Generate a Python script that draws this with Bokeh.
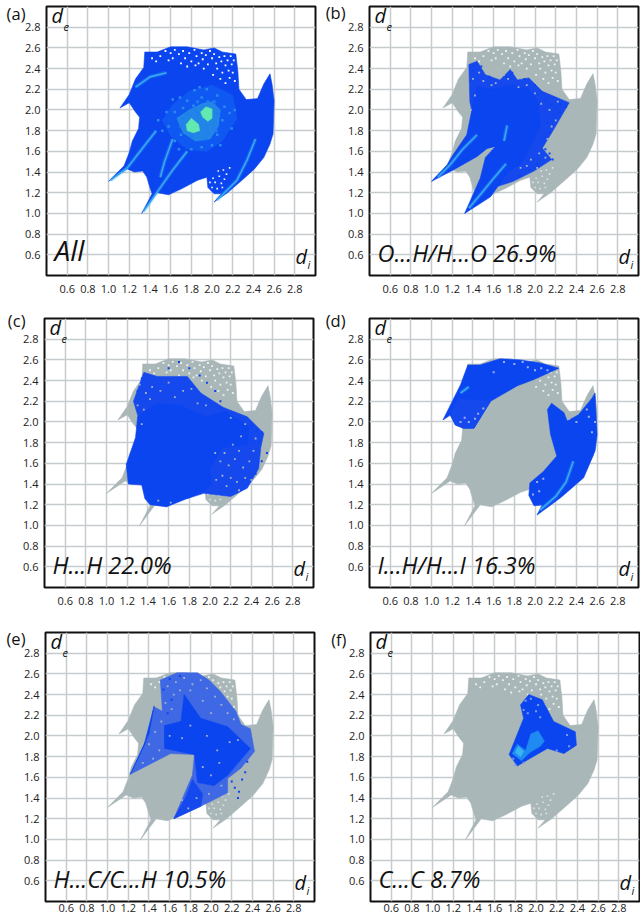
from bokeh.plotting import figure
from bokeh.layouts import column, row
from bokeh.models import Range1d, FixedTicker, NumeralTickFormatter, Label, LinearAxis
from bokeh.embed import file_html
from bokeh.resources import INLINE

TICKS = [0.6, 0.8, 1.0, 1.2, 1.4, 1.6, 1.8, 2.0, 2.2, 2.4, 2.6, 2.8]

ENVELOPE = [(1.32,1.0),(1.42,1.19),(1.39,1.28),(1.37,1.35),(1.33,1.41),(1.25,1.40),(1.18,1.43),(1.0,1.31),
 (1.15,1.46),(1.20,1.59),(1.23,1.70),(1.29,1.82),(1.30,1.93),(1.26,1.98),(1.20,2.07),(1.11,2.02),(1.20,2.15),
 (1.26,2.30),(1.34,2.41),(1.35,2.56),(1.47,2.56),(1.60,2.61),(1.76,2.61),(1.92,2.58),(2.02,2.60),(2.10,2.56),
 (2.23,2.54),(2.25,2.37),(2.26,2.20),(2.33,2.10),(2.44,2.11),(2.50,2.25),(2.56,2.35),(2.58,2.25),(2.60,2.09),
 (2.59,1.77),(2.56,1.67),(2.50,1.54),(2.41,1.43),(2.30,1.33),(2.15,1.20),(2.02,1.11),(2.09,1.19),(2.02,1.19),
 (1.96,1.25),(1.95,1.35),(1.86,1.32),(1.71,1.24),(1.58,1.18),(1.47,1.20)]

TOP_SPECKS = [(1.42,2.50),(1.50,2.52),(1.55,2.57),(1.60,2.55),(1.64,2.58),(1.68,2.54),(1.72,2.57),(1.74,2.50),(1.78,2.55),
 (1.80,2.47),(1.83,2.58),(1.85,2.52),(1.87,2.45),(1.90,2.55),(1.91,2.49),(1.94,2.53),(1.96,2.44),(1.98,2.57),
 (2.00,2.50),(2.02,2.54),(2.04,2.45),(2.05,2.40),(2.07,2.51),(2.09,2.47),(2.10,2.36),(2.12,2.52),(2.13,2.43),
 (2.15,2.48),(2.16,2.38),(2.17,2.31),(2.18,2.52),(2.19,2.44),(2.20,2.36),(2.21,2.48),(2.22,2.28),(1.62,2.50),
 (1.70,2.45),(1.76,2.42),(1.92,2.40),(2.01,2.34),(2.08,2.30),(2.13,2.26),(1.58,2.48),(1.46,2.47),(1.84,2.43)]
LOBE_SPECKS = [(2.00,1.25),(2.03,1.30),(2.05,1.24),(2.07,1.36),(2.09,1.29),(2.11,1.42),(2.12,1.33),(2.01,1.34),(1.98,1.30),
 (2.14,1.38),(2.17,1.44),(2.06,1.41),(2.10,1.25)]

LABEL_A_HAZE = [(1.52,1.90),(1.62,2.05),(1.78,2.18),(2.00,2.24),(2.20,2.14),(2.24,1.92),(2.10,1.70),(1.95,1.60),(1.76,1.62),(1.60,1.75)]
A_CORE = [(1.66,1.92),(1.72,1.78),(1.84,1.70),(1.98,1.72),(2.06,1.84),(2.08,2.00),(2.00,2.08),(1.90,2.06),(1.78,2.00)]
A_GREEN_1 = [(1.75,1.86),(1.80,1.92),(1.87,1.86),(1.88,1.80),(1.82,1.78),(1.76,1.80)]
A_GREEN_2 = [(1.89,1.98),(1.94,2.03),(2.00,2.01),(2.00,1.92),(1.96,1.89),(1.91,1.93)]
A_STREAKS = [[(1.02,1.32),(1.18,1.44),(1.32,1.62),(1.46,1.80)],[(1.34,1.02),(1.48,1.22),(1.62,1.42),(1.76,1.60)],
 [(2.05,1.13),(2.24,1.32),(2.34,1.52),(2.42,1.72)],[(1.26,2.22),(1.40,2.32),(1.56,2.36)],[(1.50,1.35),(1.54,1.50),(1.62,1.72)]]
A_SPECKS = [(1.58,1.84),(1.64,1.98),(1.69,2.12),(1.76,2.09),(1.83,2.19),(1.90,2.12),(1.95,2.20),(2.05,2.14),(2.12,2.03),(2.17,1.97),
 (2.10,1.90),(2.19,1.82),(2.05,1.76),(2.00,1.66),(1.90,1.64),(1.80,1.62),(1.70,1.76),(1.64,1.70),(1.72,2.02),(1.82,2.04),
 (1.56,1.98),(1.62,2.10),(1.88,2.22),(2.22,2.00),(1.68,1.62),(2.08,1.66),(1.52,1.80),(1.48,1.90)]
A_HOLES = [(1.76,1.96),(1.84,2.00),(1.70,1.84),(1.96,1.78),(2.04,1.80),(1.86,1.96),(2.06,1.96),(1.92,1.72),(1.72,1.92),(1.80,1.74),(2.02,2.08),(1.96,2.08),(1.86,2.08)]

B_SPARSE = [(1.36,2.44),(1.44,2.47),(1.52,2.34),(1.66,2.29),(1.76,2.39),(1.83,2.29),(1.94,2.31),(2.07,2.18),(2.33,2.07),
 (2.18,1.81),(2.07,1.63),(2.16,1.52),(1.99,1.41),(1.79,1.31),(1.57,1.24),(1.62,1.65),(1.54,1.63),(1.44,1.76),(1.37,2.08)]
B_DENSE = [(1.0,1.31),(1.15,1.47),(1.21,1.57),(1.34,1.76),(1.40,2.05),(1.44,2.22),(1.60,2.20),(1.78,2.24),(1.94,2.20),(2.03,2.08),
 (2.05,1.85),(1.96,1.66),(1.88,1.50),(1.74,1.40),(1.57,1.16),(1.32,1.0),(1.47,1.34),(1.52,1.54),(1.62,1.65),
 (1.54,1.63),(1.44,1.55),(1.21,1.42)]
B_STREAKS = [[(1.06,1.35),(1.18,1.47),(1.30,1.62),(1.44,1.76)],[(1.36,1.05),(1.47,1.18),(1.60,1.34),(1.72,1.48)],[(1.70,1.70),(1.73,1.85)]]
B_DOTS = [(2.10,2.10),(2.15,2.05),(2.20,2.02),(2.25,2.06),(2.30,2.03),(2.18,1.95),(2.24,1.98),(2.12,1.88),(2.14,1.78),(2.08,1.72),
 (2.10,1.62),(2.14,1.58),(2.17,1.52),(2.02,1.48),(1.95,1.42),(1.85,1.36),(1.48,2.42),(1.56,2.32),(1.72,2.32),(1.78,2.36),(1.90,2.30),
 (2.00,2.24),(2.06,2.17),(1.40,2.38),(1.38,2.28)]
B_HOLES = [(1.40,2.30),(1.46,2.36),(1.42,2.14),(1.38,2.00),(1.50,2.28),(1.58,2.24),(1.62,2.26),(1.74,2.30),(1.84,2.22),(1.92,2.24),(2.00,2.16),(2.06,2.06),
 (2.14,2.00),(2.20,1.90),(2.12,1.72),(2.04,1.58),(2.02,1.44),(2.10,1.54),(1.92,1.46),(1.96,1.52),(1.86,1.44),(2.16,1.84),(2.22,2.08),(1.70,2.34)]

C_SPARSE = [(1.36,2.48),(1.49,2.44),(1.78,2.44),(1.91,2.28),(2.13,2.14),(2.36,2.05),(2.52,1.89),(2.49,1.75),(2.47,1.55),(2.36,1.36),
 (2.20,1.28),(1.94,1.31),(1.78,1.26),(1.90,1.80),(1.35,1.90),(1.26,2.2)]
C_DENSE = [(1.21,1.40),(1.19,1.59),(1.28,1.85),(1.30,2.05),(1.48,2.18),(1.72,2.16),(1.95,2.05),(2.15,2.10),(2.38,1.95),(2.36,1.78),
 (2.12,1.75),(2.00,1.55),(2.02,1.40),(1.94,1.33),(1.78,1.26),(1.58,1.18),(1.42,1.20),(1.37,1.26),(1.34,1.39)]
C_DOTS = [(2.40,1.96),(2.45,1.92),(2.50,1.90),(2.43,1.82),(2.48,1.80),(2.55,1.70),(2.50,1.62),(2.44,1.50),(1.60,2.52),(1.70,2.58),(1.80,2.52),(1.90,2.45),(1.97,2.38),
 (2.05,2.30),(2.10,2.20),(1.30,2.30),(1.34,2.42)]
C_HOLES = [(1.32,2.36),(1.38,2.28),(1.44,2.34),(1.52,2.30),(1.60,2.38),(1.66,2.24),(1.74,2.30),(1.82,2.32),(1.88,2.18),(1.36,2.12),(1.42,2.22),(1.30,2.16),(1.34,1.98),
 (2.05,1.70),(2.10,1.62),(2.14,1.70),(2.18,1.58),(2.24,1.64),(2.28,1.72),(2.32,1.56),(2.38,1.62),(2.42,1.72),(2.20,1.46),(2.26,1.42),(2.34,1.46),(2.12,1.48),(2.06,1.44),
 (2.16,1.38),(2.28,1.34),(2.40,1.44),(2.44,1.84),(2.34,1.98),(2.20,2.04),(2.30,1.86),(2.22,1.78),(1.96,2.16),(1.62,1.22),(1.50,1.24)]

D_TOP_SPARSE = [(1.41,1.94),(1.31,1.94),(1.23,1.97),(1.18,2.07),(1.26,2.22),(1.57,2.20)]
D_TOP = [(1.11,2.02),(1.28,2.36),(1.35,2.55),(1.47,2.55),(1.66,2.61),(1.86,2.6),(2.05,2.57),(2.23,2.52),(1.99,2.41),(1.83,2.35),(1.57,2.20),
 (1.41,1.94),(1.31,1.94),(1.23,1.97),(1.18,2.07)]
D_RIGHT = [(2.12,2.12),(2.16,2.18),(2.28,2.09),(2.31,2.01),(2.42,2.07),(2.55,2.23),(2.58,2.28),(2.6,1.88),(2.58,1.72),(2.47,1.46),(2.25,1.27),
 (2.02,1.10),(2.07,1.2),(1.99,1.19),(1.94,1.29),(1.95,1.41),(2.08,1.52),(2.21,1.67),(2.15,1.88)]
D_STREAKS = [[(2.05,1.15),(2.20,1.28),(2.30,1.42),(2.37,1.62)],[(1.28,2.28),(1.36,2.34)]]
D_WHITE = [(1.70,2.58),(1.80,2.56),(1.88,2.58),(1.93,2.53),(2.00,2.50),(2.06,2.52),(2.12,2.50),(1.32,2.04),(1.28,2.00),(1.36,2.00),(1.42,2.03),(1.50,2.13),(1.45,2.08),
 (2.02,1.42),(1.98,1.30),(2.04,1.33),(2.08,1.45),(2.52,2.05),(2.55,1.90),(2.58,2.00),(2.50,2.12),(2.33,2.03),(2.40,2.00),(1.60,2.48)]

E_SPARSE = [(1.51,2.54),(1.67,2.61),(1.87,2.61),(1.98,2.54),(2.09,2.43),(2.24,2.24),(2.29,2.11),(2.38,2.07),(2.42,1.85),(2.29,1.69),(2.16,1.59),
 (2.16,1.45),(1.90,1.32),(1.64,1.20),(1.82,1.62),(1.84,1.82),(1.61,1.83),(1.22,1.63),(1.35,1.91),(1.45,2.28),(1.53,2.24)]
E_DENSE = [(1.74,2.40),(1.90,2.17),(2.16,2.09),(2.38,1.88),(2.16,1.62),(2.03,1.52),(1.87,1.55),(1.84,1.82),(1.55,1.88),(1.55,2.10),(1.71,2.14)]
E_LOWER = [(1.64,1.20),(1.90,1.32),(1.92,1.44),(1.82,1.58),(1.76,1.42)]
E_SLIVER = [(1.45,2.29),(1.40,2.02),(1.22,1.63),(1.36,1.92)]
E_DOTS = [(2.20,1.56),(2.23,1.50),(2.27,1.46),(2.30,1.58),(2.18,1.70),(2.33,1.65),(2.26,1.40),(2.35,1.75),(1.60,2.55),(1.70,2.58),(1.54,2.45),(1.62,2.35),(1.58,2.22)]
E_HOLES = [(1.58,2.48),(1.66,2.52),(1.74,2.56),(1.82,2.50),(1.90,2.54),(1.96,2.46),(2.04,2.38),(2.10,2.30),(2.16,2.22),(2.22,2.16),(1.64,2.40),(1.56,2.32),(1.70,2.44),(1.80,2.44),
 (1.62,2.26),(1.52,2.14),(1.46,2.04),(1.40,1.92),(1.50,1.86),(1.44,1.78),(1.34,1.74),(1.60,2.00),(1.72,1.98),(1.80,2.10),(1.96,2.00),(2.06,1.86),(1.92,1.70),(2.00,1.62),(2.08,1.74),
 (2.10,1.52),(1.98,1.44),(1.86,1.40),(1.78,1.30),(1.72,1.38),(2.26,1.96),(2.18,1.94),(2.00,2.22),(1.92,2.34)]

F_BLUE = [(1.93,2.4),(2.06,2.35),(2.17,2.14),(2.38,2.04),(2.39,1.91),(2.27,1.83),(2.11,1.88),(1.92,1.77),(1.82,1.71),(1.74,1.82),(1.84,2.07),(1.88,2.17),(1.85,2.3)]
F_LIGHT = [(1.77,1.83),(1.82,1.92),(1.90,1.86),(1.95,2.02),(2.02,2.05),(2.08,1.95),(2.04,1.90),(1.94,1.84),(1.86,1.76)]
F_CORE = [(1.80,1.84),(1.83,1.90),(1.88,1.85),(1.85,1.80)]
F_WHITE = [(1.90,2.34),(1.95,2.36),(2.02,2.30),(1.88,2.25),(1.92,2.22),(2.00,2.24),(2.04,2.18),(1.80,1.72),(1.88,1.74),(2.30,2.01),(2.32,1.90),(2.20,1.86),(1.78,1.78)]

CAPTIONS = ["All", "O...H/H...O 26.9%", "H...H 22.0%", "I...H/H...I 16.3%", "H...C/C...H 10.5%", "C...C 8.7%"]
PANEL_TAGS = ["(a)", "(b)", "(c)", "(d)", "(e)", "(f)"]
TAG_Y = [2.96, 2.95, 2.98, 2.98, 2.94, 2.93]

GRAY = "#A9B7B9"
BLUE = "#0B45F0"
MID = "#1549EE"
HAZE = "#1776F2"
CYAN = "#3AB4F0"
TEAL = "#45D6D0"
GREEN = "#62E8B0"
SIZE = 269


def xs(pts): return [q[0] for q in pts]
def ys(pts): return [q[1] for q in pts]


def fig(idx, w, h, left, top, x_standoff=9):
    bottom = h - top - SIZE
    right = w - left - SIZE
    p = figure(frame_width=SIZE, frame_height=SIZE, output_backend="svg", toolbar_location=None,
               x_range=Range1d(0.4, 3.0), y_range=Range1d(0.4, 3.0),
               min_border_left=left, min_border_right=right, min_border_top=top, min_border_bottom=bottom)
    p.outline_line_color = "#111111"
    p.outline_line_width = 2
    p.background_fill_color = "white"
    for ax in (p.xaxis[0], p.yaxis[0]):
        ax.ticker = FixedTicker(ticks=TICKS)
        ax.formatter = NumeralTickFormatter(format="0.0")
        ax.axis_line_color = None
        ax.major_tick_line_color = None
        ax.minor_tick_line_color = None
        ax.major_tick_out = 0
        ax.major_tick_in = 0
        ax.minor_tick_out = 0
        ax.major_label_text_font = "Open Sans"
        ax.major_label_text_font_size = "11px"
        ax.major_label_text_color = "#222222"
    p.xaxis[0].major_label_standoff = x_standoff
    p.yaxis[0].major_label_standoff = 6
    for g in (p.xgrid[0], p.ygrid[0]):
        g.ticker = FixedTicker(ticks=TICKS)
        g.grid_line_color = "#C6CCCD"
        g.grid_line_width = 1.5
    tag = LinearAxis(ticker=FixedTicker(ticks=[TAG_Y[idx]]), major_label_overrides={TAG_Y[idx]: PANEL_TAGS[idx]},
                     axis_line_color=None, major_tick_line_color=None, minor_tick_line_color=None,
                     major_tick_out=0, major_tick_in=0, minor_tick_out=0,
                     major_label_standoff=min(0, left - 49), major_label_text_font="Open Sans",
                     major_label_text_font_size="16.5px", major_label_text_color="#111111")
    p.add_layout(tag, "left")
    size = "28px" if idx == 0 else "23.5px"
    p.add_layout(Label(x=8, y=7, x_units="screen", y_units="screen", text=CAPTIONS[idx], text_font="Open Sans",
                       text_font_style="italic", text_font_size=size, text_color="#111111"))
    p.add_layout(Label(x=5, y=SIZE - 22, x_units="screen", y_units="screen", text="d", text_font="Open Sans",
                       text_font_style="italic", text_font_size="20px", text_color="#111111"))
    p.add_layout(Label(x=17, y=SIZE - 24, x_units="screen", y_units="screen", text="e", text_font="Open Sans",
                       text_font_style="italic", text_font_size="11px", text_color="#111111"))
    p.add_layout(Label(x=SIZE - 20, y=6, x_units="screen", y_units="screen", text="d", text_font="Open Sans",
                       text_font_style="italic", text_font_size="20px", text_color="#111111"))
    p.add_layout(Label(x=SIZE - 8, y=4, x_units="screen", y_units="screen", text="i", text_font="Open Sans",
                       text_font_style="italic", text_font_size="11px", text_color="#111111"))
    return p


def area(p, pts, color, alpha=1.0):
    p.patch(xs(pts), ys(pts), fill_color=color, fill_alpha=alpha, line_color=color, line_width=0.6, line_alpha=alpha)


def dots(p, pts, color, size=2):
    p.scatter(xs(pts), ys(pts), marker="square", size=size, fill_color=color, line_color=None)


def streaks(p, lines, color=CYAN, width=1.6):
    for ln in lines:
        p.line(xs(ln), ys(ln), line_color=color, line_width=width * 2.5, line_alpha=0.25)
        p.line(xs(ln), ys(ln), line_color=color, line_width=width, line_alpha=0.9)


def base(p, gray=True, color=GRAY):
    area(p, ENVELOPE, color)
    dots(p, TOP_SPECKS, "white" if not gray else "#EEF2F2", 1.8)
    dots(p, LOBE_SPECKS, "white" if not gray else "#DDE4E4", 1.6)


pa = fig(0, 320, 300, 46, 6)
base(pa, gray=False, color=BLUE)
area(pa, LABEL_A_HAZE, HAZE, 0.4)
streaks(pa, A_STREAKS)
area(pa, A_CORE, TEAL, 0.35)
dots(pa, A_SPECKS, "#2A8CF0", 2.5)
dots(pa, A_HOLES, "#1E7FF0", 3)
area(pa, A_GREEN_1, GREEN)
area(pa, A_GREEN_2, GREEN)

pb = fig(1, 320, 300, 49, 5)
base(pb)
area(pb, B_SPARSE, MID)
area(pb, B_DENSE, BLUE)
dots(pb, B_DOTS, BLUE)
dots(pb, B_HOLES, "#A4B4C8", 1.8)
streaks(pb, B_STREAKS)

pc = fig(2, 320, 310, 44, 18)
base(pc)
area(pc, C_SPARSE, MID)
area(pc, C_DENSE, BLUE)
dots(pc, C_DOTS, BLUE)
dots(pc, C_HOLES, "#A4B4C8", 1.8)

pd = fig(3, 320, 310, 49, 18)
base(pd)
area(pd, D_TOP, BLUE)
area(pd, D_TOP_SPARSE, MID)
area(pd, D_RIGHT, BLUE)
dots(pd, D_WHITE, "#9DB0F5")
streaks(pd, D_STREAKS)

pe = fig(4, 320, 309, 45, 22, x_standoff=2)
base(pe)
area(pe, E_SPARSE, "#3F68E4")
area(pe, E_DENSE, BLUE)
area(pe, E_LOWER, MID)
area(pe, E_SLIVER, BLUE)
dots(pe, E_DOTS, BLUE)
dots(pe, E_HOLES, "#A4B4C8", 1.8)

pf = fig(5, 320, 309, 50, 22, x_standoff=2)
base(pf)
area(pf, F_BLUE, BLUE)
area(pf, F_LIGHT, "#1E8AF2")
area(pf, F_CORE, CYAN)
dots(pf, F_WHITE, "#7F9AF0", 2)

layout = column(row(pa, pb, spacing=0), row(pc, pd, spacing=0), row(pe, pf, spacing=0), spacing=0, margin=(0, 0, -4, 0))
open("out.html", "w").write(file_html(layout, INLINE))
